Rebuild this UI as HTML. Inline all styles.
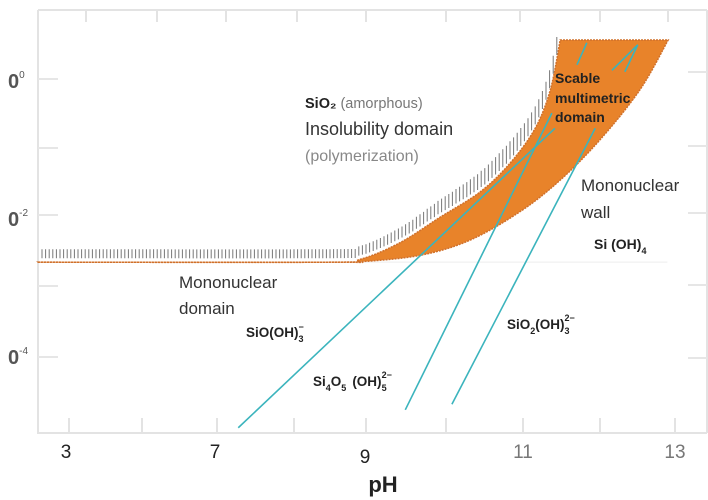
<!DOCTYPE html>
<html><head><meta charset="utf-8"><style>
html,body{margin:0;padding:0;background:#fff;width:708px;height:500px;overflow:hidden}
svg text{font-family:"Liberation Sans",sans-serif}
</style></head><body>
<svg id="chart" width="708" height="500" viewBox="0 0 708 500" xmlns="http://www.w3.org/2000/svg">
<g id="frame"></g>
<g id="marks"></g>
<g id="labels">
<text x="305" y="108" font-size="14.5" fill="#222"><tspan font-weight="bold">SiO₂</tspan><tspan fill="#777"> (amorphous)</tspan></text>
<text x="305" y="135" font-size="18" fill="#333">Insolubility domain</text>
<text x="305" y="161" font-size="16" fill="#888">(polymerization)</text>
<text font-size="14" font-weight="bold" fill="#222"><tspan x="555" y="83">Scable</tspan><tspan x="555" y="103">multimetric</tspan><tspan x="555" y="122">domain</tspan></text>
<text font-size="17" fill="#333"><tspan x="581" y="191">Mononuclear</tspan><tspan x="581" y="218">wall</tspan></text>
<text x="594" y="249" font-size="14" font-weight="bold" fill="#222">Si (OH)<tspan font-size="9" dy="5">4</tspan></text>
<text font-size="17" fill="#333"><tspan x="179" y="288">Mononuclear</tspan><tspan x="179" y="314">domain</tspan></text>
<text x="246" y="337" font-size="13.5" font-weight="bold" fill="#222">SiO(OH)<tspan font-size="9" dy="5">3</tspan><tspan font-size="9" dx="-5" dy="-12">−</tspan></text>
<text x="313" y="386" font-size="13.5" font-weight="bold" fill="#222">Si<tspan font-size="9" dy="5">4</tspan><tspan dy="-5">O</tspan><tspan font-size="9" dy="5">5</tspan><tspan dx="6" dy="-5">(OH)</tspan><tspan font-size="9" dy="5">5</tspan><tspan font-size="9" dx="-5" dy="-13">2−</tspan></text>
<text x="507" y="329" font-size="13.5" font-weight="bold" fill="#222">SiO<tspan font-size="9" dy="5">2</tspan><tspan dy="-5">(OH)</tspan><tspan font-size="9" dy="5">3</tspan><tspan font-size="9" dx="-5" dy="-13">2−</tspan></text>
<text x="383" y="492" font-size="22" font-weight="bold" fill="#222" text-anchor="middle">pH</text>
</g>
</svg>
<script>
// axis data
const xTickVals = [3, 7, 9, 11, 13];
const xTickLabels = ['3', '7', '9', '11', '13'];
const yTickVals = [0, -2, -4];
const yTickLabels = ['0', '-2', '-4'];
// amorphous silica solubility (upper band edge) pH / log C
const upperPH = [2.25, 8.5, 8.93, 9.44, 9.95, 10.46, 10.84, 11.16, 11.36, 11.49];
const upperLogC = [-2.64, -2.64, -2.6, -2.36, -1.99, -1.62, -1.2, -0.7, -0.14, 0.58];
// mononuclear wall (lower band edge)
const lowerPH = [2.25, 8.6, 8.93, 9.70, 10.33, 10.96, 11.49, 12.01, 12.54, 12.91];
const lowerLogC = [-2.64, -2.64, -2.635, -2.54, -2.32, -1.91, -1.45, -0.87, -0.14, 0.58];
// species lines [pH0, logC0, pH1, logC1]
const speciesPH0 = [7.31, 9.51, 10.10, 11.71, 12.17, 12.34];
const speciesC0 = [-5.04, -4.78, -4.70, 0.22, 0.14, 0.12];
const speciesPH1 = [11.42, 11.38, 11.95, 11.84, 12.51, 12.51];
const speciesC1 = [-0.70, -0.48, -0.70, 0.54, 0.51, 0.51];

// axis functions (non-uniform x axis as drawn)
const xAnchorV = [2, 3, 7, 9, 11, 13, 14];
const xAnchorP = [29, 66, 215, 365, 523, 675, 751];
function X(v){for(let i=0;i<xAnchorV.length-1;i++){if(v<=xAnchorV[i+1]||i===xAnchorV.length-2){const t=(v-xAnchorV[i])/(xAnchorV[i+1]-xAnchorV[i]);return xAnchorP[i]+t*(xAnchorP[i+1]-xAnchorP[i]);}}}
function Y(v){return 80 - v*69;}
const NS='http://www.w3.org/2000/svg';
function mk(tag,attrs,parent){const e=document.createElementNS(NS,tag);for(const k in attrs)e.setAttribute(k,attrs[k]);parent.appendChild(e);return e;}
const frame=document.getElementById('frame'), marks=document.getElementById('marks'), svg=document.getElementById('chart');

function smooth(pts){let s='';for(let i=0;i<pts.length-1;i++){const p0=pts[Math.max(i-1,0)],p1=pts[i],p2=pts[i+1],p3=pts[Math.min(i+2,pts.length-1)];
 const c1=[p1[0]+(p2[0]-p0[0])/6,p1[1]+(p2[1]-p0[1])/6],c2=[p2[0]-(p3[0]-p1[0])/6,p2[1]-(p3[1]-p1[1])/6];
 s+=' C'+c1[0].toFixed(1)+','+c1[1].toFixed(1)+' '+c2[0].toFixed(1)+','+c2[1].toFixed(1)+' '+p2[0].toFixed(1)+','+p2[1].toFixed(1);}return s;}

let f=mk('path',{d:'M38,10 L38,433 L707,433 M38,10 L707,10 M707,10 L707,433',stroke:'#e3e3e3','stroke-width':2,fill:'none'},frame);


[69,142,217,294,366,446,523,600,675].forEach(px=>{
 let t=mk('line',{x1:px,x2:px,y1:433,y2:418,stroke:'#e3e3e3','stroke-width':2},frame);
 
 
});
[86,157,226,297,366,446,520,600,668].forEach(px=>{
 let t2=mk('line',{x1:px,x2:px,y1:10,y2:22,stroke:'#e3e3e3','stroke-width':2},frame);
 
 
});
[79,148,215,286,357].forEach(py=>{
 let t=mk('line',{x1:38,x2:58,y1:py,y2:py,stroke:'#e6e6e6','stroke-width':2},frame);
 
 
});
[72,146,213,285,358].forEach(py=>{
 let t2=mk('line',{x1:688,x2:707,y1:py,y2:py,stroke:'#e6e6e6','stroke-width':2},frame);
 
 
});
let hl=mk('line',{x1:X(8.9),x2:X(12.9),y1:Y(-2.64),y2:Y(-2.64),stroke:'#eeeeee','stroke-width':1},frame);



xTickVals.forEach((v,i)=>{
 let t=mk('text',{x:X(v),y:i===2?463:458,'font-size':19,'text-anchor':'middle',fill:i>=3?'#777':'#222'},svg);
 t.textContent=xTickLabels[i];
 
 
});
yTickVals.forEach((v,i)=>{
 let t=mk('text',{x:8,y:Y(v)+8,'font-size':20,'font-weight':'bold',fill:'#555'},svg);
 t.textContent='0';
 let s=mk('tspan',{'font-size':10,dy:-10,'font-weight':'normal'},t);
 s.textContent=yTickLabels[i];
 
 
});

const up=upperPH.map((p,i)=>[X(p),Y(upperLogC[i])]);
const lo=lowerPH.map((p,i)=>[X(p),Y(lowerLogC[i])]).reverse();
let d='M'+up[0][0]+','+up[0][1]+smooth(up)+' L'+lo[0][0]+','+lo[0][1]+smooth(lo)+' Z';
let band=mk('path',{d:d,fill:'#e8832a',stroke:'#d0702a','stroke-width':1.5,'stroke-dasharray':'2,1'},marks);



const upPath=mk('path',{d:'M'+up[0][0]+','+up[0][1]+smooth(up),fill:'none',stroke:'none'},marks);
const L=upPath.getTotalLength();
const samples=[];for(let s=0;s<=L;s+=1)samples.push(upPath.getPointAtLength(s));
function yAt(px){let best=samples[0];for(const p of samples){if(Math.abs(p.x-px)<Math.abs(best.x-px))best=p;}return best.y;}
let hatch='';
const xEnd=up[up.length-1][0];
for(let px=42;px<=xEnd-3;px+=3.6){
 const y=yAt(px)-4;
 const h=Math.min(9+(Y(-2.64)-4-y)*0.1,18);
 hatch+='M'+px.toFixed(1)+','+y.toFixed(1)+' V'+(y-h).toFixed(1)+' ';
}
let hp=mk('path',{d:hatch,stroke:'#777','stroke-width':1,fill:'none'},marks);



speciesPH0.forEach((p,i)=>{
 let l=mk('line',{x1:X(p),y1:Y(speciesC0[i]),x2:X(speciesPH1[i]),y2:Y(speciesC1[i]),stroke:'#3bb4bd','stroke-width':1.6},marks);
 
 
});
</script>
</body></html>
